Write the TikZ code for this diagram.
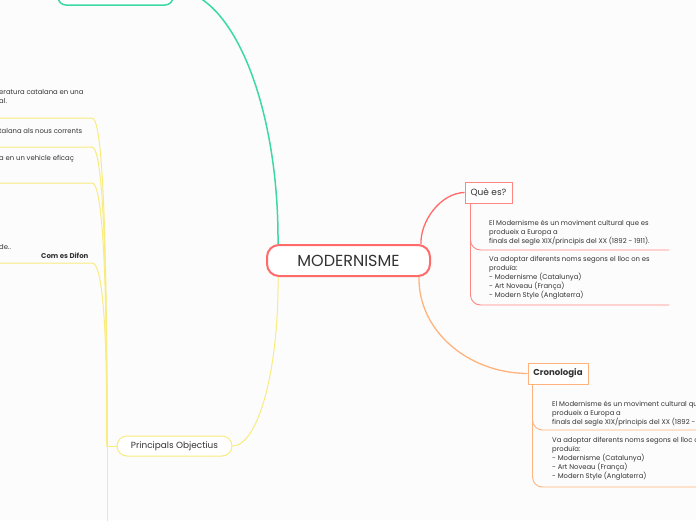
\documentclass[tikz,border=0pt]{standalone}
\usepackage{fontspec}
\setmainfont{Poppins}
\definecolor{bg}{HTML}{FCFCFC}
\definecolor{cRed}{HTML}{FF6B6B}
\definecolor{cRedL}{HTML}{FF8580}
\definecolor{cOrange}{HTML}{FFB37C}
\definecolor{cGreen}{HTML}{3DD9A4}
\definecolor{cYellow}{HTML}{F8EC7E}
\definecolor{cText}{HTML}{333333}
\begin{document}
\begin{tikzpicture}[x=1pt,y=-1pt,
  every node/.style={text=cText, inner sep=0pt},
  central/.style={draw=cRed, line width=2pt, fill=white, rounded corners=12pt,
    minimum width=163pt, minimum height=31pt, font=\fontsize{16}{19}\selectfont},
  topicbox/.style={draw=#1, line width=1pt, fill=white, minimum height=21pt,
    font=\fontsize{9}{11}\selectfont},
  pillbox/.style={draw=#1, line width=1pt, fill=white, rounded corners=10pt,
    minimum height=20pt},
  smalltext/.style={font=\fontsize{6.85}{9}\selectfont, align=left, anchor=north west},
  leftfrag/.style={font=\fontsize{6.85}{9}\selectfont, align=left, anchor=west},
  gline/.style={draw=cGreen, line width=1.5pt},
  yline/.style={draw=cYellow, line width=1pt},
  rline/.style={draw=cRed, line width=1.3pt},
  rthin/.style={draw=cRedL, line width=0.9pt, rounded corners=10pt},
  oline/.style={draw=cOrange, line width=1.3pt},
  othin/.style={draw=cOrange, line width=0.9pt, rounded corners=10pt}
]
\fill[bg] (0,0) rectangle (696,520);
\useasboundingbox (0,0) rectangle (696,520);

% nodes
\node[central] (mod) at (348.5,260.5) {MODERNISME};
\node[pillbox=cGreen, line width=1.5pt, rounded corners=8pt, minimum width=115pt, minimum height=30pt] (top) at (115.5,-10) {};
\node[pillbox=cYellow, minimum width=115pt, font=\fontsize{8.9}{10}\selectfont] (po) at (174.5,446) {Principals Objectius};
\node[topicbox=cRedL, minimum width=47pt] (qe) at (488.5,192.5) {Què es?};
\node[topicbox=cOrange, minimum width=60pt, font=\fontsize{8.6}{10}\selectfont\bfseries] (cr) at (558,373.5) {Cronologia};

\node[smalltext] (q1) at (489,219.5) {El Modernisme és un moviment cultural que es\\produeix a Europa a\\finals del segle XIX/principis del XX (1892 - 1911).};
\node[smalltext] (q2) at (489,256.5) {Va adoptar diferents noms segons el lloc on es\\produïa:\\- Modernisme (Catalunya)\\- Art Noveau (França)\\- Modern Style (Anglaterra)};
\node[smalltext] (c1) at (552,400.5) {El Modernisme és un moviment cultural que es\\produeix a Europa a\\finals del segle XIX/principis del XX (1892 - 1911).};
\node[smalltext] (c2) at (552,437.5) {Va adoptar diferents noms segons el lloc on es\\produïa:\\- Modernisme (Catalunya)\\- Art Noveau (França)\\- Modern Style (Anglaterra)};

\node[smalltext] (l1) at (-1,89.5) {eratura catalana en una\\al.};
\node[leftfrag] (l2) at (-1,131) {talana als nous corrents};
\node[leftfrag] (l3) at (-1,159) {a en un vehicle eficaç};
\node[leftfrag] (l4) at (-1,247) {de..};
\node[leftfrag, font=\fontsize{7}{9}\selectfont\bfseries] (l5) at (41,256) {Com es Difon};

% main connectors
\draw[gline] ([xshift=12pt]mod.north west) .. controls (279,104) and (231.5,-10) .. (top.east);
\draw[yline] ([xshift=12pt]mod.south west) .. controls (279,370) and (258,446) .. (po.east);
\draw[rline] ([xshift=-10pt]mod.north east) .. controls (420,222) and (440,193) .. (qe.west);
\draw[oline] ([xshift=-12pt]mod.south east) .. controls (418,330) and (467,373) .. (cr.west);

% Què es children
\coordinate (qa) at (669,250);
\coordinate (qb) at (669,305);
\draw[rthin] ([xshift=6pt]qe.south west) |- (qa);
\draw[rthin] ([xshift=6pt]qe.south west) |- (qb);

% Cronologia children
\coordinate (ca) at (700,430);
\coordinate (cb) at (700,487);
\draw[othin] ([xshift=5pt]cr.south west) |- (ca);
\draw[othin] ([xshift=5pt]cr.south west) |- (cb);

% Principals Objectius children
\coordinate (hub) at (107,446);
\coordinate (k1) at (92,118);
\coordinate (k2) at (92,147);
\coordinate (k3) at (92,183);
\coordinate (k4) at (92,263);
\coordinate (kdown) at (107,530);
\draw[yline] (po.west) -- (hub);
\draw[yline] (hub) .. controls (107,216) and (102,118) .. (k1) -- (-5,118);
\draw[yline] (hub) .. controls (107,237) and (102,147) .. (k2) -- (-5,147);
\draw[yline] (hub) .. controls (107,262) and (102,183) .. (k3) -- (-5,183);
\draw[yline] (hub) .. controls (107,318) and (102,263) .. (k4) -- (-5,263);
\draw[yline] (hub) -- (kdown);
\end{tikzpicture}
\end{document}
